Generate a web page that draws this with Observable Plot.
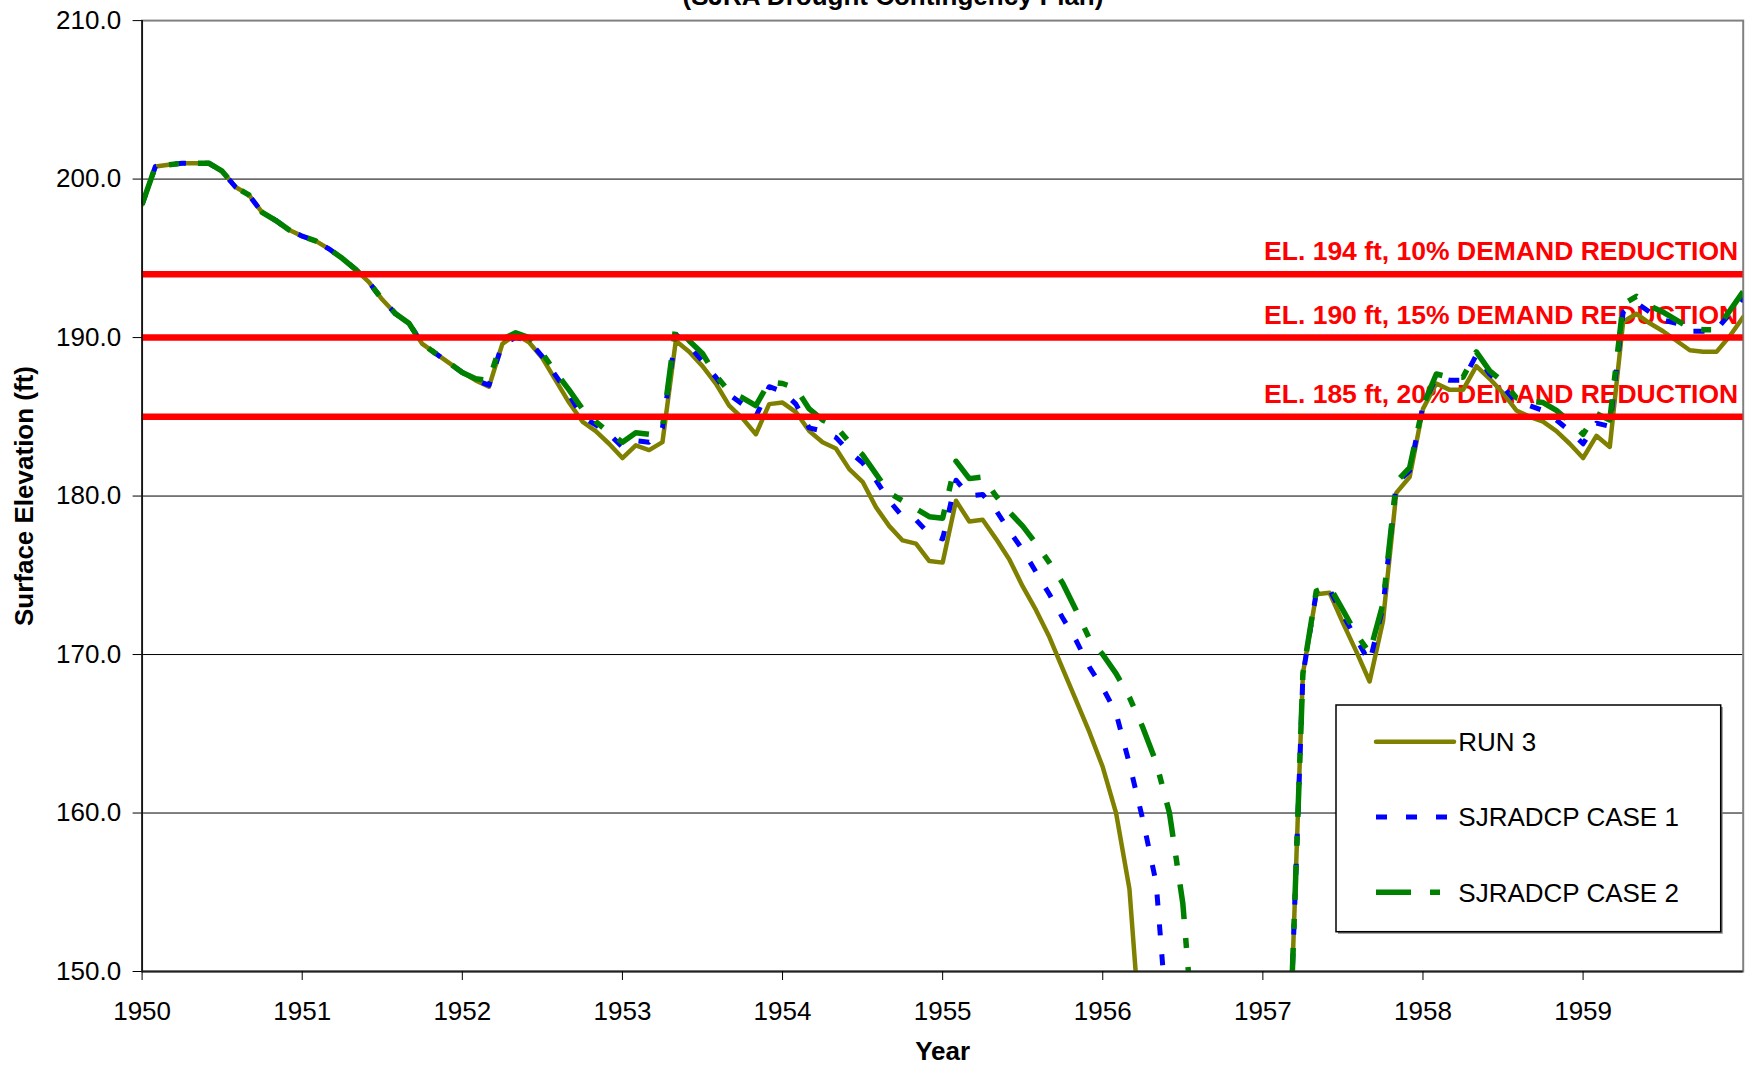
<!DOCTYPE html>
<html><head><meta charset="utf-8">
<script src="https://cdn.jsdelivr.net/npm/d3@7"></script>
<script src="https://cdn.jsdelivr.net/npm/@observablehq/plot@0.6"></script>
<style>
html,body{margin:0;padding:0;background:#fff;}
#wrap{position:relative;width:1748px;height:1068px;overflow:hidden;background:#fff;font-family:"Liberation Sans",Arial,Helvetica,sans-serif;}
#wrap > svg{position:absolute;left:0;top:0;}
</style></head>
<body><div id="wrap"></div>
<script>
// Monthly surface elevation (ft), Jan 1950 .. Jan 1960 (values below 150 ft fall outside the axis)
const run3 = [
198.4,200.8,200.9,201.0,201.0,201.0,200.5,199.5,199.0,197.9,197.4,196.8,
196.4,196.1,195.6,195.0,194.3,193.5,192.4,191.5,190.9,189.6,189.0,188.4,
187.8,187.3,186.9,189.6,190.2,189.7,188.7,187.3,185.9,184.7,184.1,183.3,
182.4,183.2,182.9,183.4,189.8,189.1,188.2,187.1,185.7,184.9,183.9,185.8,
185.9,185.3,184.1,183.4,183.0,181.7,180.9,179.3,178.1,177.2,177.0,175.9,
175.8,179.7,178.4,178.5,177.3,176.0,174.3,172.8,171.1,169.1,167.1,165.1,
162.9,160.0,155.2,144,137,132,129,127,126,125,125,127,
131,137,145,168.8,173.8,173.9,172.0,170.2,168.3,172.1,180.2,181.2,
185.5,187.1,186.7,186.7,188.2,187.4,186.5,185.4,185.0,184.7,184.1,183.3,
182.4,183.8,183.1,191.0,191.5,190.9,190.4,189.8,189.2,189.1,189.1,190.1,
191.3];
const case1 = [
198.4,200.8,200.9,201.0,201.0,201.0,200.5,199.5,199.0,197.9,197.4,196.8,
196.4,196.1,195.6,195.0,194.3,193.5,192.4,191.5,190.9,189.6,189.0,188.4,
187.8,187.3,187.0,189.6,190.0,189.8,188.8,187.6,186.4,185.0,184.5,183.9,
183.1,183.5,183.4,184.3,190.2,189.5,188.5,187.5,186.4,185.8,185.0,186.9,
186.6,185.8,184.3,184.1,183.7,182.8,182.1,181.0,179.7,178.7,178.5,177.6,
177.3,181.0,180.0,180.1,179.1,177.8,176.6,175.2,173.8,172.3,170.9,169.2,
167.9,166.3,163.1,159.6,155.6,145,139,134,131,129,128,128,
131,137,145,168.7,173.9,174.1,172.5,171.0,169.5,173.0,180.8,181.6,
185.7,187.5,187.3,187.3,188.9,187.7,186.9,185.9,185.7,185.4,184.8,184.1,
183.3,184.6,184.4,191.6,192.2,191.6,191.1,190.9,190.4,190.4,190.5,191.5,
192.5];
const case2 = [
198.4,200.8,200.9,201.0,201.0,201.0,200.5,199.5,199.0,197.9,197.4,196.8,
196.4,196.1,195.6,195.0,194.3,193.5,192.4,191.5,190.9,189.6,189.0,188.4,
187.8,187.4,187.3,189.9,190.3,190.0,189.0,187.8,186.7,185.5,184.7,184.0,
183.4,184.0,183.9,184.3,190.7,189.8,189.0,187.6,186.6,186.2,185.7,187.2,
187.1,186.8,185.5,184.8,184.4,183.4,182.6,181.4,180.2,179.7,179.2,178.7,
178.6,182.2,181.1,181.2,180.0,179.0,178.1,177.0,175.8,174.5,172.8,171.0,
170.0,168.8,167.3,165.4,163.2,160.0,154.3,144,139,135,133,132,
133,138,145,168.8,174.0,174.3,172.8,171.3,170.1,173.2,180.9,181.8,
185.7,187.7,187.5,187.5,189.1,187.9,187.2,186.2,186.0,185.9,185.4,184.7,
183.9,185.2,184.8,192.1,192.6,192.0,191.6,191.1,190.6,190.5,190.5,191.7,
192.9];

const seriesNames = ["RUN 3", "SJRADCP CASE 1", "SJRADCP CASE 2"];
const seriesColors = ["#808000", "#0000ff", "#008000"];
const seriesDash = [null, "11,19", "35,19,10,19"];
const seriesWidth = [4.5, 5, 5.5];

const thresholds = [194, 190, 185];
const thresholdLabels = [
  "EL. 194 ft, 10% DEMAND REDUCTION",
  "EL. 190 ft, 15% DEMAND REDUCTION",
  "EL. 185 ft, 20% DEMAND REDUCTION"
];
const yTicks = [150, 160, 170, 180, 190, 200, 210];
const xTicks = [1950, 1951, 1952, 1953, 1954, 1955, 1956, 1957, 1958, 1959];
const titleText = "(SJRA Drought Contingency Plan)";
const xLabel = "Year";
const yLabel = "Surface Elevation (ft)";
const startYear = 1950;

const FONT = "Liberation Sans, Arial, Helvetica, sans-serif";
const allSeries = [run3, case1, case2];
const rows = [];
allSeries.forEach((vals, s) => vals.forEach((v, j) => rows.push({t: startYear + j / 12, v, s})));

const lineMarks = allSeries.map((_, s) => Plot.line(rows.filter(r => r.s === s), {
  x: "t", y: "v", stroke: seriesColors[s], strokeWidth: seriesWidth[s],
  strokeDasharray: seriesDash[s] || undefined,
  strokeLinecap: seriesDash[s] ? "butt" : "round",
  strokeLinejoin: "round", clip: true
}));

const chart = Plot.plot({
  width: 1748, height: 1068,
  marginLeft: 141.6, marginRight: 5.3, marginTop: 20.1, marginBottom: 97,
  style: {fontFamily: FONT, fontSize: "26px", color: "#000", background: "#fff", overflow: "visible"},
  x: {domain: [1950, 1960]},
  y: {domain: [150, 210]},
  marks: [
    Plot.gridY(yTicks.slice(1, -1), {stroke: "#000", strokeOpacity: 1, strokeWidth: 1}),
    Plot.frame({stroke: "#808080", strokeWidth: 2}),
    Plot.text(thresholds, {y: d => d, frameAnchor: "right", text: (d, i) => thresholdLabels[i],
      textAnchor: "end", dx: -5, dy: -22.5, fill: "#ff0000", fontWeight: "bold", fontSize: 26.5}),
    ...lineMarks,
    Plot.ruleY(thresholds, {stroke: "#ff0000", strokeWidth: 6.5}),
    Plot.ruleX([1950], {stroke: "#000", strokeWidth: 1.5}),
    Plot.ruleY([150], {stroke: "#222", strokeWidth: 2}),
    Plot.axisY({ticks: yTicks, tickFormat: d => d.toFixed(1), tickSize: 9, tickPadding: 12, label: null, fontSize: 26}),
    Plot.axisX({ticks: xTicks, tickFormat: d => String(d), tickSize: 9, tickPadding: 21, label: null, fontSize: 26}),
    Plot.text([yLabel], {frameAnchor: "left", textAnchor: "middle", dx: -117, rotate: -90, fontWeight: "bold", fontSize: 26}),
    Plot.text([xLabel], {frameAnchor: "bottom", textAnchor: "middle", dy: 88, fontWeight: "bold", fontSize: 26})
  ]
});
const wrap = document.getElementById("wrap");
wrap.appendChild(chart);

// Title (cropped at top of the picture, as in the source)
const tsvg = d3.create("svg").attr("width", 1748).attr("height", 30);
tsvg.append("text").attr("x", 893).attr("y", 4.5).attr("text-anchor", "middle")
  .attr("font-family", FONT).attr("font-size", 26).attr("font-weight", "bold").text(titleText);
wrap.appendChild(tsvg.node());

// Legend
const lg = d3.create("svg").attr("width", 392).attr("height", 234)
  .style("left", "1334px").style("top", "703px");
lg.append("rect").attr("x", 4).attr("y", 4).attr("width", 384.7).attr("height", 226.7).attr("fill", "#808080");
lg.append("rect").attr("x", 2).attr("y", 2).attr("width", 384.7).attr("height", 226.7)
  .attr("fill", "#fff").attr("stroke", "#000").attr("stroke-width", 1.5);
seriesNames.forEach((name, i) => {
  const y = 38.7 + 75.3 * i;
  lg.append("line").attr("x1", 42).attr("x2", 120).attr("y1", y).attr("y2", y)
    .attr("stroke", seriesColors[i]).attr("stroke-width", seriesWidth[i])
    .attr("stroke-dasharray", seriesDash[i]).attr("stroke-linecap", seriesDash[i] ? "butt" : "round");
  lg.append("text").attr("x", 124.3).attr("y", y + 9.3).attr("font-family", FONT)
    .attr("font-size", 26).text(name);
});
wrap.appendChild(lg.node());
</script>
</body></html>
